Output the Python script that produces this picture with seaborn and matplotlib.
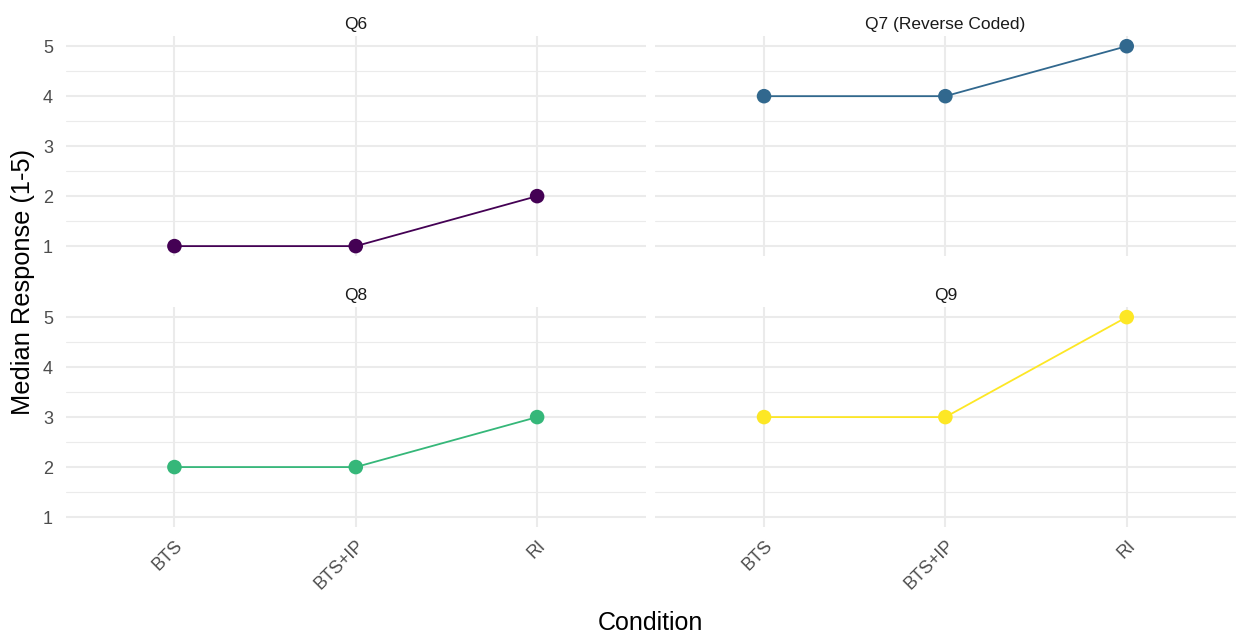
import matplotlib
matplotlib.use("Agg")
import matplotlib.pyplot as plt
import seaborn as sns
import pandas as pd
from matplotlib.ticker import MultipleLocator

conditions = ["BTS", "BTS+IP", "RI"]
questions = ["Q6", "Q7 (Reverse Coded)", "Q8", "Q9"]
q6 = [1, 1, 2]
q7 = [4, 4, 5]
q8 = [2, 2, 3]
q9 = [3, 3, 5]
colors = ["#440154", "#31688E", "#35B779", "#FDE725"]

rows = []
for q, vals in zip(questions, [q6, q7, q8, q9]):
    for c, v in zip(conditions, vals):
        rows.append({"Question": q, "Condition": c, "Median": v})
df = pd.DataFrame(rows)

sns.set_theme(style="whitegrid")
plt.rcParams["font.family"] = ["Liberation Sans", "DejaVu Sans"]

palette = dict(zip(questions, colors))
g = sns.FacetGrid(df, col="Question", col_wrap=2, col_order=questions,
                  hue="Question", palette=palette, sharex=True, sharey=True,
                  height=3, aspect=2)
g.map_dataframe(sns.lineplot, x="Condition", y="Median", linewidth=1.3,
                sort=False)
g.map_dataframe(sns.scatterplot, x="Condition", y="Median", s=110,
                edgecolor="none", zorder=5)
g.figure.set_size_inches(12.38, 6.35)
g.figure.set_dpi(100)
g.figure.subplots_adjust(left=0.053, right=0.998, top=0.943, bottom=0.170,
                         wspace=0.016, hspace=0.232)

for ax, q in zip(g.axes.flat, questions):
    ax.set_facecolor("white")
    ax.set_title(q, fontsize=12.5, color="#1A1A1A", pad=5)
    ax.set_xlim(-0.6, 2.6)
    ax.set_ylim(0.8, 5.2)
    ax.yaxis.set_major_locator(MultipleLocator(1))
    ax.yaxis.set_minor_locator(MultipleLocator(0.5))
    ax.grid(which="major", color="#EBEBEB", linewidth=1.5)
    ax.grid(which="minor", axis="y", color="#EBEBEB", linewidth=0.8)
    ax.set_axisbelow(True)
    for s in ax.spines.values():
        s.set_visible(False)
    ax.tick_params(axis="both", which="both", length=0, labelsize=13,
                   labelcolor="#4D4D4D")
    ax.tick_params(axis="y", pad=9)
    ax.set_xlabel("")
    ax.set_ylabel("")
for ax in g.axes[-2:]:
    for lab in ax.get_xticklabels():
        lab.set_rotation(45)
        lab.set_ha("right")
        lab.set_rotation_mode("anchor")
    ax.tick_params(axis="x", pad=7)

g.figure.text(0.525, 0.008, "Condition", ha="center", va="baseline",
              fontsize=18, color="black")
g.figure.text(0.0186, 0.556, "Median Response (1-5)", ha="center",
              va="center", rotation=90, fontsize=18.3, color="black")

g.figure.savefig("out.png", dpi=100, facecolor="white")
